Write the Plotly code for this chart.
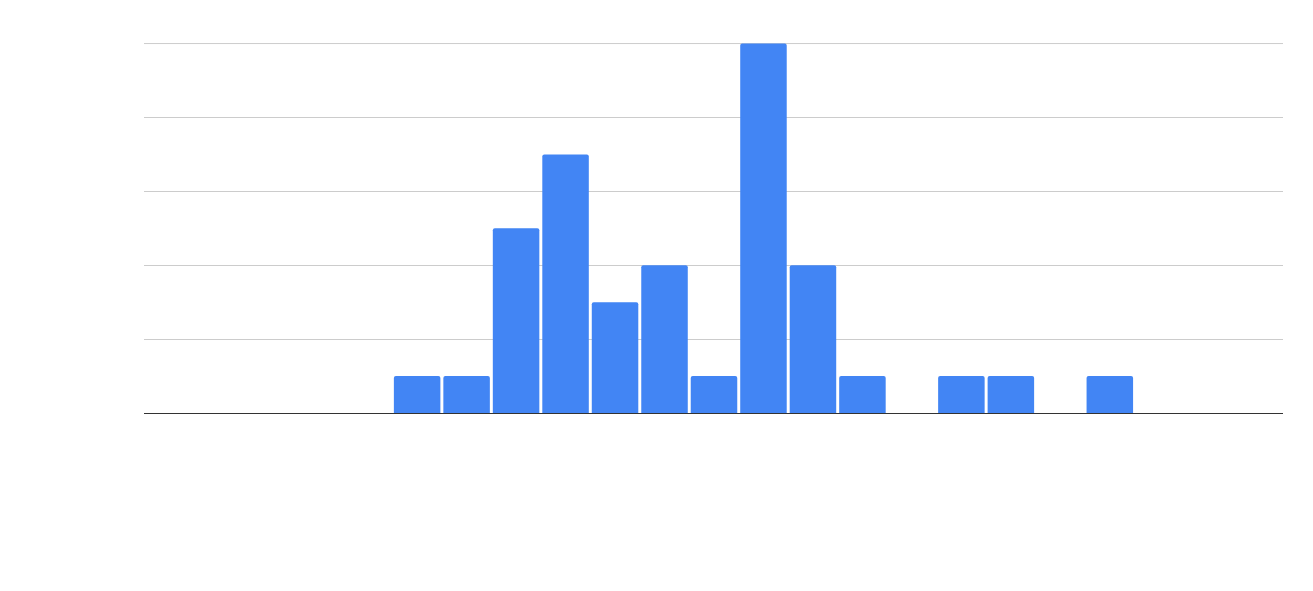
import plotly.graph_objects as go

bins = list(range(23))
counts = [0, 0, 0, 0, 0, 1, 1, 5, 7, 3, 4, 1, 10, 4, 1, 0, 1, 1, 0, 1, 0, 0, 0]
grid_values = [0, 2, 4, 6, 8, 10]

fig = go.Figure(go.Bar(
    x=bins, y=counts,
    marker=dict(color="#4285F4", line=dict(width=0), cornerradius=2),
    width=0.94,
))
fig.update_layout(
    width=1313, height=591,
    margin=dict(l=136, r=38, t=35, b=186),
    plot_bgcolor="white", paper_bgcolor="white",
    showlegend=False,
)
fig.update_xaxes(range=[-0.52, 22.5], showticklabels=False, showgrid=False,
                 zeroline=False, showline=False, ticks="")
fig.update_yaxes(range=[0, 10.015], tickvals=grid_values, showticklabels=False,
                 showgrid=True, gridcolor="#cccccc", gridwidth=1, zeroline=True,
                 zerolinecolor="#333333", zerolinewidth=1, showline=False,
                 ticks="")
fig.add_shape(type="line", xref="paper", x0=0, x1=1, yref="y",
              y0=grid_values[-1], y1=grid_values[-1],
              line=dict(color="#cccccc", width=1), layer="below")
fig.write_html("out.html")
